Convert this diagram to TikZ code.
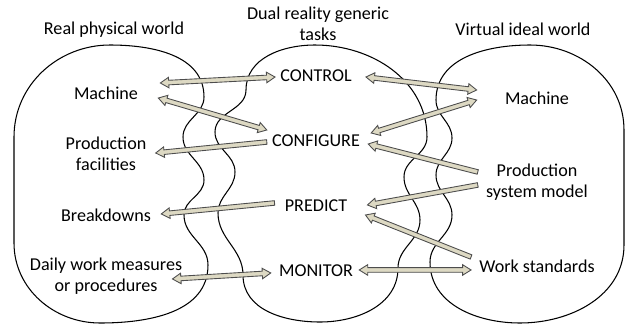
\documentclass[tikz,border=0pt]{standalone}
\usepackage{fontspec}
\setmainfont{Carlito}
\usepackage{tikz}
\usetikzlibrary{positioning,calc}

\definecolor{tanfill}{HTML}{DDD9C3}
\definecolor{tanline}{HTML}{4D4D4D}

% sizes of the block arrows
\newcommand{\arshaft}{1.3pt}
\newcommand{\arhead}{3pt}
\newcommand{\arlen}{4.8pt}

% block arrow, head at #2
\newcommand{\fatarrow}[2]{%
  \path (#1) coordinate (fa-s) (#2) coordinate (fa-e)
        ($(fa-e)!\arlen!(fa-s)$) coordinate (fa-h);
  \draw[fatarrow] ($(fa-s)!\arshaft!90:(fa-e)$) -- ($(fa-h)!\arshaft!90:(fa-e)$)
    -- ($(fa-h)!\arhead!90:(fa-e)$) -- (fa-e) -- ($(fa-h)!\arhead!-90:(fa-e)$)
    -- ($(fa-h)!\arshaft!-90:(fa-e)$) -- ($(fa-s)!\arshaft!-90:(fa-e)$) -- cycle;}

% block arrow, heads at both ends
\newcommand{\fatdarrow}[2]{%
  \path (#1) coordinate (fa-s) (#2) coordinate (fa-e)
        ($(fa-s)!\arlen!(fa-e)$) coordinate (fa-a)
        ($(fa-e)!\arlen!(fa-s)$) coordinate (fa-h);
  \draw[fatarrow] (fa-s) -- ($(fa-a)!\arhead!90:(fa-e)$) -- ($(fa-a)!\arshaft!90:(fa-e)$)
    -- ($(fa-h)!\arshaft!90:(fa-e)$) -- ($(fa-h)!\arhead!90:(fa-e)$) -- (fa-e)
    -- ($(fa-h)!\arhead!-90:(fa-e)$) -- ($(fa-h)!\arshaft!-90:(fa-e)$)
    -- ($(fa-a)!\arshaft!-90:(fa-e)$) -- ($(fa-a)!\arhead!-90:(fa-e)$) -- cycle;}

\begin{document}
\begin{tikzpicture}[
    x=0.02cm, y=0.02cm,
    node distance=1.22cm,
    font=\fontsize{10.3}{11.9}\selectfont,
    world/.style={
		inner sep=0pt,
		align=center
	},
    item/.style={
		inner sep=0pt,
		align=center
	},
    task/.style={
		inner sep=0pt
	},
    blob/.style={
		draw=black,
		line width=0.6pt
	},
    fatarrow/.style={
		draw=tanline,
		fill=tanfill,
		line width=0.5pt,
		line join=miter
	}
  ]
  \useasboundingbox (0,0) rectangle (626,326);

  % the three worlds
  \draw [blob] (14,189) to[out=90,in=180] (110,281) to[out=0,in=90] (204,229)
    to[out=270,in=90] (183,189) to[out=270,in=90] (204,146)
    to[out=270,in=90] (184,111) to[out=270,in=90] (208,61)
    to[out=270,in=0] (100,3) to[out=180,in=270] (14,83) -- cycle;

  \draw [blob] (246,236) to[out=90,in=180] (315,281) to[out=0,in=90] (427,189)
    to[out=270,in=90] (404,149) to[out=270,in=90] (420,106)
    to[out=270,in=90] (398,58) to[out=270,in=0] (320,4)
    to[out=180,in=270] (243,51) to[out=90,in=270] (218,113)
    to[out=90,in=270] (235,154) to[out=90,in=270] (215,194)
    to[out=90,in=270] (246,236) -- cycle;

  \draw [blob] (436,226) to[out=90,in=180] (530,281) to[out=0,in=90] (624,196)
    -- (624,81) to[out=270,in=0] (520,3) to[out=180,in=270] (430,64)
    to[out=90,in=270] (452,111) to[out=90,in=270] (436,151)
    to[out=90,in=270] (452,188) to[out=90,in=270] (436,226) -- cycle;

  % titles
  \node [world] (realT) at (114,296) {Real physical world};
  \node [world] (dualT) at (318,302) {Dual reality generic\\tasks};
  \node [world] (virtT) at (523,297) {Virtual ideal world};

  % real side
  \node [item] (mL) at (106,233) {Machine};
  \node [item, below of=mL] (pf) {Production\\facilities};
  \node [item, below of=pf] (bd) {Breakdowns};
  \node [item, below of=bd] (dw) {Daily work measures\\or procedures};

  % tasks
  \node [task] (ctl) at (316,250) {CONTROL};
  \node [task, node distance=1.3cm, below of=ctl] (cfg) {CONFIGURE};
  \node [task, node distance=1.3cm, below of=cfg] (prd) {PREDICT};
  \node [task, node distance=1.3cm, below of=prd] (mon) {MONITOR};

  % virtual side
  \node [item] (mR) at (537,228) {Machine};
  \node [item, node distance=1.68cm, below of=mR] (psm) {Production\\system model};
  \node [item, node distance=1.68cm, below of=psm] (ws) {Work standards};

  % arrows
  \fatdarrow{[shift={(22,10)}]mL.east}{[shift={(-5,-1)}]ctl.west}
  \fatdarrow{[shift={(20,-5)}]mL.east}{[shift={(-5,11)}]cfg.west}
  \fatarrow{[shift={(-5,-1)}]cfg.west}{[shift={(9,1)}]pf.east}
  \fatarrow{[shift={(-10,3)}]prd.west}{[shift={(10,1)}]bd.east}
  \fatdarrow{[shift={(-10,-3)}]dw.east}{[shift={(-8,-2)}]mon.west}
  \fatdarrow{[shift={(14,-1)}]ctl.east}{[shift={(-28,8)}]mR.west}
  \fatdarrow{[shift={(11,8)}]cfg.east}{[shift={(-28,-2)}]mR.west}
  \fatarrow{[shift={(-8,10)}]psm.west}{[shift={(8,-3)}]cfg.east}
  \fatarrow{[shift={(-8,-3)}]psm.west}{[shift={(20,1)}]prd.east}
  \fatarrow{[shift={(-8,9)}]ws.west}{[shift={(18,-9)}]prd.east}
  \fatdarrow{[shift={(6,1)}]mon.east}{[shift={(-8,-4)}]ws.west}

\end{tikzpicture}
\end{document}
